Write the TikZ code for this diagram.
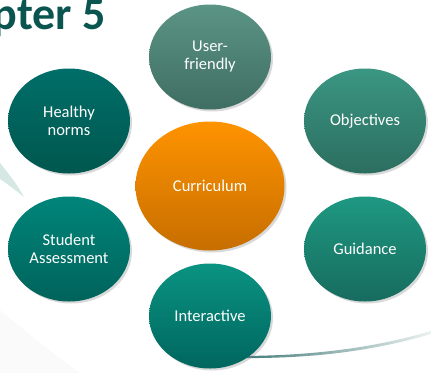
\documentclass[tikz,border=0pt]{standalone}
\usepackage{fontspec}
\setmainfont{Carlito}
\usetikzlibrary{shapes.geometric,shadows}

\definecolor{titleteal}{HTML}{0B5551}
\definecolor{swoosh}{HTML}{D5E8E4}
\definecolor{usertop}{HTML}{5B9484}   \definecolor{userbot}{HTML}{3F6E62}
\definecolor{healthtop}{HTML}{006E68} \definecolor{healthbot}{HTML}{00574F}
\definecolor{objtop}{HTML}{3A9682}    \definecolor{objbot}{HTML}{2C6E60}
\definecolor{curtop}{HTML}{FF9300}    \definecolor{curbot}{HTML}{C66E00}
\definecolor{assesstop}{HTML}{00857A} \definecolor{assessbot}{HTML}{00635B}
\definecolor{guidetop}{HTML}{1E9882}  \definecolor{guidebot}{HTML}{176C5E}
\definecolor{intertop}{HTML}{0A9382}  \definecolor{interbot}{HTML}{00665E}

\tikzset{
  bubble/.style={ellipse,minimum width=122pt,minimum height=105pt,inner sep=0pt,
    text=white,align=center,font=\fontsize{16.5}{18}\selectfont,
    drop shadow={opacity=0.3,shadow xshift=2pt,shadow yshift=-2pt}},
  fillgrad/.style={top color=#1top,bottom color=#1bot}
}

\begin{document}
\begin{tikzpicture}[x=1pt,y=-1pt]
\useasboundingbox (0,0) rectangle (431,373);

% background swooshes
\fill[swoosh] (0,163) .. controls (10,175) and (18,186) .. (24,197) .. controls (14,189) and (6,183) .. (0,179) -- cycle;
\fill[black!2] (0,310) .. controls (30,335) and (55,355) .. (80,373) -- (0,373) -- cycle;
\shade[left color=titleteal!80,right color=titleteal!8] (236,356) .. controls (320,356) and (380,346) .. (431,331) -- (431,334) .. controls (380,349) and (320,359) .. (236,358) -- cycle;

% title
\node[anchor=base east,inner sep=0pt,text=titleteal,font=\fontsize{46}{46}\selectfont\bfseries] (title) at (106,29) {Chapter 5};

% bubbles
\node[bubble,fillgrad=user] (user) at (210,57) {User-\\friendly};
\node[bubble,fillgrad=health] (health) at (69,121) {Healthy\\norms};
\node[bubble,fillgrad=obj] (obj) at (365,121) {Objectives};
\node[bubble,minimum width=149pt,minimum height=129pt,fillgrad=cur] (cur) at (210,186) {Curriculum};
\node[bubble,fillgrad=assess] (assess) at (69,249) {Student\\Assessment};
\node[bubble,fillgrad=guide] (guide) at (365,249) {Guidance};
\node[bubble,fillgrad=inter] (inter) at (210,316) {Interactive};

\end{tikzpicture}
\end{document}
